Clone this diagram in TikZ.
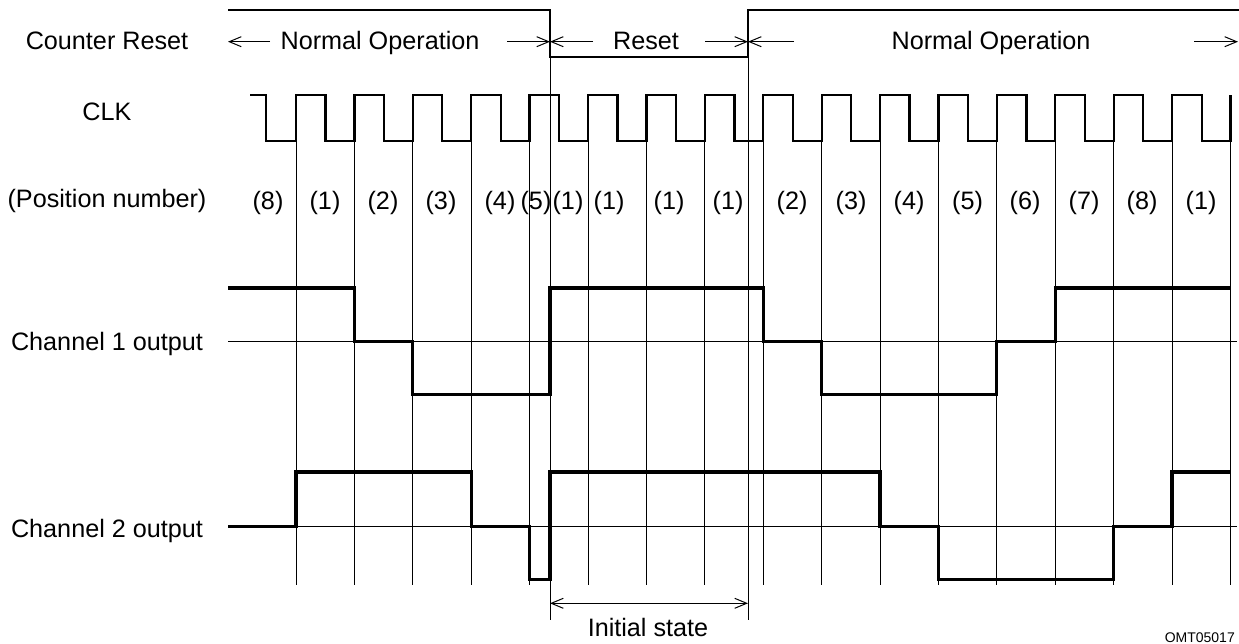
\documentclass[tikz,border=0pt]{standalone}
\usepackage{fontspec}
\setmainfont{Liberation Sans}
\usetikzlibrary{arrows.meta}
\begin{document}
\begin{tikzpicture}[x=1pt,y=-1pt,
  lbl/.style={font=\fontsize{25.2}{30}\selectfont, inner sep=0pt, anchor=base},
  thinln/.style={line width=1pt},
  clkln/.style={line width=2.3pt},
  wave/.style={line width=3.2pt, line join=miter},
  dimarrow/.style={line width=1pt, -{Straight Barb[length=12pt,width=10pt,line width=1pt]}},
  dimboth/.style={line width=1pt, {Straight Barb[length=12pt,width=10pt,line width=1pt]}-{Straight Barb[length=12pt,width=10pt,line width=1pt]}}
]
\useasboundingbox (0,0) rectangle (1239,644);
% ---- labels on the left
\node[lbl] (lreset) at (107,50) {Counter Reset};
\node[lbl] (lclk) at (107,121) {CLK};
\node[lbl] (lpos) at (107,208) {(Position number)};
\node[lbl] (lch1) at (107,350) {Channel 1 output};
\node[lbl] (lch2) at (107,537) {Channel 2 output};
% ---- counter reset signal
\draw[clkln] (228,10) -- (550,10) -- (550,57) -- (748,57) -- (748,10) -- (1239,10);
% ---- reset-phase arrows and texts
\coordinate (a0) at (228,41.7);
\coordinate (a1) at (270,41.7);
\coordinate (a2) at (507,41.7);
\coordinate (rs) at (550,41.7);
\coordinate (a3) at (593,41.7);
\coordinate (a4) at (705,41.7);
\coordinate (re) at (748,41.7);
\coordinate (a5) at (794,41.7);
\coordinate (a6) at (1194,41.7);
\coordinate (a7) at (1238,41.7);
\draw[dimarrow] (a1) -- (a0);
\draw[dimarrow] (a2) -- (rs);
\draw[dimarrow] (a3) -- (rs);
\draw[dimarrow] (a4) -- (re);
\draw[dimarrow] (a5) -- (re);
\draw[dimarrow] (a6) -- (a7);
\node[lbl] (tno1) at (380,50) {Normal Operation};
\node[lbl] (trs) at (646,50) {Reset};
\node[lbl] (tno2) at (991,50) {Normal Operation};
% ---- clock
\draw[clkln] (250,95) -- (266,95) -- (266,141)
  \foreach \k in {0,...,15} { -- ({296+58.41*\k},141) -- ({296+58.41*\k},95) -- ({325.5+58.41*\k},95) -- ({325.5+58.41*\k},141) }
  -- (1230.5,141) -- (1230.5,95);
% ---- vertical grid lines at rising edges
\foreach \k in {0,...,16} {
  \draw[thinln] ({296+58.41*\k},141) -- ({296+58.41*\k},585);
}
% ---- reset boundary lines
\draw[thinln] (550,57) -- (550,620);
\draw[thinln] (748,57) -- (748,620);
% ---- position numbers
\foreach \xx/\t in {268/(8),325/(1),383/(2),441/(3),500/(4),536/(5),568/(1),609/(1),669/(1),728/(1),
  792/(2),851/(3),909/(4),967.5/(5),1025/(6),1084/(7),1142/(8),1201/(1)} {
  \node[lbl] at (\xx,210) {\t};
}
% ---- channel reference lines
\draw[thinln] (228,341.5) -- (1237,341.5);
\draw[thinln] (228,526.5) -- (1237,526.5);
% ---- channel 1 waveform
\draw[wave] (228,288) -- (354.4,288) -- (354.4,341.5) -- (412.8,341.5) -- (412.8,394.5) -- (550,394.5)
  -- (550,288) -- (763.2,288) -- (763.2,341.5) -- (821.6,341.5) -- (821.6,394.5) -- (996.8,394.5)
  -- (996.8,341.5) -- (1055.2,341.5) -- (1055.2,288) -- (1230.4,288);
% ---- channel 2 waveform
\draw[wave] (228,526.5) -- (296,526.5) -- (296,472) -- (471.2,472) -- (471.2,526.5) -- (529.6,526.5)
  -- (529.6,579.5) -- (550,579.5) -- (550,472) -- (880,472) -- (880,526.5) -- (938.4,526.5)
  -- (938.4,579.5) -- (1113.6,579.5) -- (1113.6,526.5) -- (1172,526.5) -- (1172,472) -- (1230.4,472);
% ---- initial state
\coordinate (is1) at (550,603.3);
\coordinate (is2) at (748,603.3);
\draw[dimboth] (is1) -- (is2);
\node[lbl] (tis) at (648,636) {Initial state};
% ---- figure code
\node[font=\fontsize{14}{17}\selectfont, inner sep=0pt, anchor=base east] (code) at (1235,642) {OMT05017};
\end{tikzpicture}
\end{document}
